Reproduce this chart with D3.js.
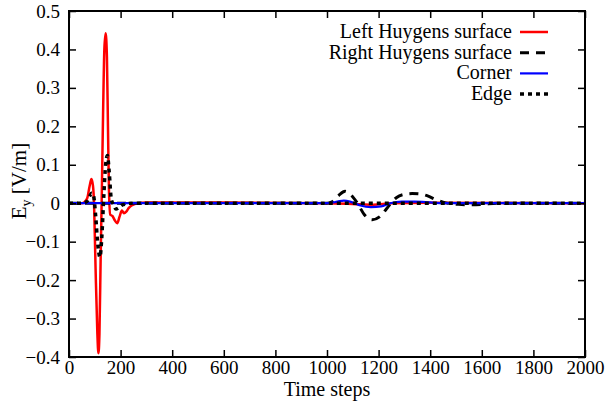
<!DOCTYPE html>
<html lang="en">
<head>
    <meta charset="UTF-8">
    <title>Ey time steps</title>
    <script src="https://d3js.org/d3.v7.min.js"></script>
    <style>
        body { margin: 0; background: #fff; }
    </style>
</head>
<body>
<script>
    const width  = 608;
    const height = 409;

    const xTicks = [0, 200, 400, 600, 800, 1000, 1200, 1400, 1600, 1800, 2000];
    const yTicks = [-0.4, -0.3, -0.2, -0.1, 0, 0.1, 0.2, 0.3, 0.4, 0.5];

    // Left Huygens surface
    const leftT = [0, 50, 70, 80, 87, 93, 97, 103, 110, 114, 118, 123, 127, 132, 137, 142, 147, 151, 155, 160, 168, 178, 187, 196, 205, 213, 222, 232, 245, 265, 300, 600, 1000, 1100, 1180, 1250, 1400, 2000];
    const leftV = [0, 0, 0.012, 0.045, 0.063, 0.045, 0.0, -0.17, -0.34, -0.39, -0.34, -0.13, 0.02, 0.23, 0.40, 0.442, 0.38, 0.2, 0.03, -0.03, -0.033, -0.045, -0.052, -0.035, -0.019, -0.026, -0.022, -0.012, -0.005, 0.0, 0.002, 0.002, 0, -0.002, -0.004, 0, 0.001, 0];

    // Right Huygens surface
    const rightT = [0, 1000, 1020, 1045, 1070, 1095, 1118, 1145, 1175, 1205, 1230, 1247, 1270, 1300, 1330, 1360, 1390, 1420, 1460, 1510, 1550, 1600, 1660, 2000];
    const rightV = [0, 0, 0.004, 0.02, 0.031, 0.02, 0, -0.03, -0.043, -0.035, -0.015, 0, 0.015, 0.023, 0.025, 0.024, 0.019, 0.01, 0.001, -0.003, -0.004, -0.003, 0, 0];

    // Corner
    const cornerT = [0, 1000, 1040, 1065, 1095, 1130, 1170, 1210, 1245, 1290, 1340, 1400, 1450, 2000];
    const cornerV = [0, 0, 0.004, 0.007, 0.003, -0.006, -0.01, -0.008, 0, 0.004, 0.004, 0.002, 0, 0];

    // Edge
    const edgeT = [0, 50, 70, 80, 87, 95, 103, 112, 120, 127, 135, 142, 149, 156, 164, 172, 182, 192, 205, 220, 240, 2000];
    const edgeV = [0, 0, 0.005, 0.018, 0.026, 0.02, -0.03, -0.11, -0.14, -0.09, 0.02, 0.1, 0.124, 0.08, 0.01, -0.003, -0.015, -0.012, -0.005, -0.002, 0, 0];

    const series = [
        {name: "Left Huygens surface",  t: leftT,   v: leftV,   color: "#ff0000", w: 2.5, dash: null},
        {name: "Right Huygens surface", t: rightT,  v: rightV,  color: "#000000", w: 3,   dash: "9,7"},
        {name: "Corner",                t: cornerT, v: cornerV, color: "#0000ff", w: 2.2, dash: null},
        {name: "Edge",                  t: edgeT,   v: edgeV,   color: "#000000", w: 3.5, dash: "4,4"}
    ];

    const plotL = 69, plotR = 585, plotT = 11, plotB = 357;
    const serif = "Liberation Serif, Times New Roman, Times, Tinos, Noto Serif, DejaVu Serif, FreeSerif, serif";

    const scaleX = d3.scaleLinear().domain([0, 2000]).range([plotL, plotR]);
    const scaleY = d3.scaleLinear().domain([-0.4, 0.5]).range([plotB, plotT]);

    const svg = d3.select("body").append("svg")
        .attr("width", width).attr("height", height)
        .attr("font-family", serif);

    const line = d3.line()
        .x(d => scaleX(d[0]))
        .y(d => scaleY(d[1]))
        .curve(d3.curveMonotoneX);

    svg.append("defs").append("clipPath").attr("id", "clip")
        .append("rect").attr("x", plotL).attr("y", plotT)
        .attr("width", plotR - plotL).attr("height", plotB - plotT);

    const plot = svg.append("g").attr("clip-path", "url(#clip)");
    series.forEach(s => {
        plot.append("path")
            .attr("d", line(s.t.map((t, i) => [t, s.v[i]])))
            .attr("fill", "none")
            .attr("stroke", s.color)
            .attr("stroke-width", s.w)
            .attr("stroke-dasharray", s.dash);
    });

    // axes with inward ticks on all sides
    const tk = 7;
    svg.append("g").attr("transform", `translate(0,${plotB})`)
        .call(d3.axisBottom(scaleX).tickValues(xTicks).tickSizeInner(-tk).tickSizeOuter(0).tickPadding(4).tickFormat(d3.format("d")))
        .call(g => g.select(".domain").remove());
    svg.append("g").attr("transform", `translate(0,${plotT})`)
        .call(d3.axisTop(scaleX).tickValues(xTicks).tickSizeInner(-tk).tickSizeOuter(0).tickFormat(""))
        .call(g => g.select(".domain").remove());
    svg.append("g").attr("transform", `translate(${plotL},0)`)
        .call(d3.axisLeft(scaleY).tickValues(yTicks).tickSizeInner(-tk).tickSizeOuter(0).tickPadding(9).tickFormat(d3.format("")))
        .call(g => g.select(".domain").remove());
    svg.append("g").attr("transform", `translate(${plotR},0)`)
        .call(d3.axisRight(scaleY).tickValues(yTicks).tickSizeInner(-tk).tickSizeOuter(0).tickFormat(""))
        .call(g => g.select(".domain").remove());

    svg.selectAll("g").attr("font-family", serif);
    svg.selectAll(".tick line").attr("stroke", "#000").attr("stroke-width", 1.5);
    svg.selectAll(".tick text").attr("font-size", 19).attr("fill", "#000");

    svg.append("rect")
        .attr("x", plotL).attr("y", plotT)
        .attr("width", plotR - plotL).attr("height", plotB - plotT)
        .attr("fill", "none").attr("stroke", "#000").attr("stroke-width", 2);

    svg.append("text")
        .attr("x", (plotL + plotR) / 2).attr("y", 396)
        .attr("text-anchor", "middle").attr("font-size", 20)
        .text("Time steps");

    const yl = svg.append("text")
        .attr("transform", "translate(26,181) rotate(-90)")
        .attr("text-anchor", "middle").attr("font-size", 21);
    yl.append("tspan").text("E");
    yl.append("tspan").attr("font-size", 14).attr("dy", 5).text("y");
    yl.append("tspan").attr("dy", -5).text(" [V/m]");

    // legend
    const legend = svg.append("g");
    series.forEach((s, i) => {
        const y = 31 + i * 20.7;
        legend.append("text")
            .attr("x", 512).attr("y", y).attr("dy", "0.35em")
            .attr("text-anchor", "end").attr("font-size", 20)
            .text(s.name);
        legend.append("line")
            .attr("x1", 520).attr("x2", 548).attr("y1", y + 1).attr("y2", y + 1)
            .attr("stroke", s.color).attr("stroke-width", s.w)
            .attr("stroke-dasharray", s.dash);
    });
</script>
</body>
</html>
